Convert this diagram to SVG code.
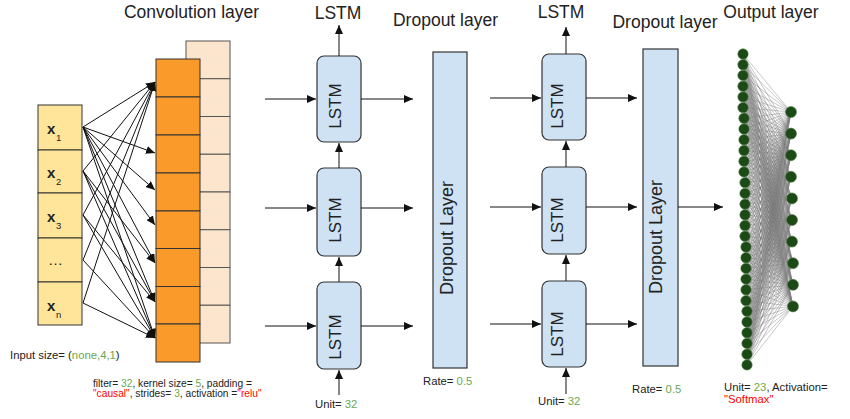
<svg xmlns="http://www.w3.org/2000/svg" width="850" height="419" viewBox="0 0 850 419">
<style>
text{font-family:"Liberation Sans",Arial,sans-serif;fill:#222}
.t{font-size:17.5px}
.s{font-size:11.3px}
.f{font-size:10.2px}
.g{fill:#6aa84f}
.r{fill:#ff0000}
.xl{font-size:15px;font-weight:bold}
.dots{font-size:15px}
.sub{font-size:9.5px}
.in{fill:#ffe599;stroke:#333;stroke-width:1}
.or{fill:#f99a2b;stroke:#333;stroke-width:1}
.pe{fill:#fce5cd;stroke:#555;stroke-width:1}
.ls{fill:#cfe2f3;stroke:#333;stroke-width:1.2}
.dr{fill:#cfe2f3;stroke:#333;stroke-width:1.2}
.bl{font-size:17px}
.a{stroke:#111;stroke-width:1;fill:none;marker-end:url(#ah)}
.m{stroke:#7a7a7a;stroke-width:0.5;fill:none;stroke-opacity:0.85}
.nd{fill:#1c4a17;stroke:#4f7a47;stroke-width:0.6}
</style>
<defs>
<marker id="ah" markerUnits="userSpaceOnUse" markerWidth="9" markerHeight="8" refX="9" refY="4" orient="auto">
<path d="M0,0L9,4L0,8z" fill="#111"/>
</marker>
</defs>

<g id="titles">
<text class="t" x="191.5" y="17.5" text-anchor="middle">Convolution layer</text>
<text class="t" x="338" y="18.5" text-anchor="middle">LSTM</text>
<text class="t" x="445.5" y="25.5" text-anchor="middle">Dropout layer</text>
<text class="t" x="561" y="17.5" text-anchor="middle">LSTM</text>
<text class="t" x="665" y="28" text-anchor="middle">Dropout layer</text>
<text class="t" x="771" y="17.5" text-anchor="middle">Output layer</text>
</g>

<g id="input">
<rect class="in" x="38" y="105" width="44" height="45"/>
<rect class="in" x="38" y="150" width="44" height="43"/>
<rect class="in" x="38" y="193" width="44" height="45"/>
<rect class="in" x="38" y="238" width="44" height="44"/>
<rect class="in" x="38" y="282" width="44" height="43"/>
<text class="xl" x="47" y="134">x</text><text class="sub" x="56" y="141">1</text>
<text class="xl" x="47" y="178">x</text><text class="sub" x="56" y="185">2</text>
<text class="xl" x="47" y="222">x</text><text class="sub" x="56" y="229">3</text>
<text class="dots" x="48" y="265">…</text>
<text class="xl" x="47" y="311">x</text><text class="sub" x="56" y="318">n</text>
<text class="s" x="10" y="359">Input size= (<tspan class="g">none,4,1</tspan>)</text>
</g>

<g id="conv">
<rect class="pe" x="186" y="41" width="44" height="37.75"/>
<rect class="pe" x="186" y="78.75" width="44" height="37.75"/>
<rect class="pe" x="186" y="116.5" width="44" height="37.75"/>
<rect class="pe" x="186" y="154.25" width="44" height="37.75"/>
<rect class="pe" x="186" y="192" width="44" height="37.75"/>
<rect class="pe" x="186" y="229.75" width="44" height="37.75"/>
<rect class="pe" x="186" y="267.5" width="44" height="37.75"/>
<rect class="pe" x="186" y="305.25" width="44" height="37.75"/>
<rect class="or" x="156" y="59" width="44" height="38"/>
<rect class="or" x="156" y="97" width="44" height="38"/>
<rect class="or" x="156" y="135" width="44" height="38"/>
<rect class="or" x="156" y="173" width="44" height="38"/>
<rect class="or" x="156" y="211" width="44" height="37.5"/>
<rect class="or" x="156" y="248.5" width="44" height="38"/>
<rect class="or" x="156" y="286.5" width="44" height="37.5"/>
<rect class="or" x="156" y="324" width="44" height="38"/>
<text class="f" x="93" y="387">filter= <tspan class="g">32</tspan>, kernel size= <tspan class="g">5</tspan>, padding =</text>
<text class="f" x="93" y="397"><tspan class="r">"causal"</tspan>, strides= <tspan class="g">3</tspan>, activation =<tspan class="r">"relu"</tspan></text>
</g>

<g id="lstm1">
<rect class="ls" x="317" y="56" width="44" height="86" rx="7"/>
<rect class="ls" x="317" y="168" width="44" height="88" rx="7"/>
<rect class="ls" x="317" y="282" width="44" height="87" rx="7"/>
<text class="bl" text-anchor="middle" transform="translate(340.5,106) rotate(-90)">LSTM</text>
<text class="bl" text-anchor="middle" transform="translate(340.5,220) rotate(-90)">LSTM</text>
<text class="bl" text-anchor="middle" transform="translate(340.5,337) rotate(-90)">LSTM</text>
<text class="s" x="315" y="408">Unit= <tspan class="g">32</tspan></text>
</g>

<g id="dropout1">
<rect class="dr" x="433" y="52" width="34" height="316"/>
<text font-size="18" text-anchor="middle" transform="translate(452.5,238) rotate(-90)">Dropout Layer</text>
<text class="s" x="423" y="385">Rate= <tspan class="g">0.5</tspan></text>
</g>

<g id="lstm2">
<rect class="ls" x="542" y="54" width="44" height="86" rx="7"/>
<rect class="ls" x="542" y="167" width="44" height="87" rx="7"/>
<rect class="ls" x="542" y="281" width="44" height="86" rx="7"/>
<text class="bl" text-anchor="middle" transform="translate(563,106) rotate(-90)">LSTM</text>
<text class="bl" text-anchor="middle" transform="translate(563,220) rotate(-90)">LSTM</text>
<text class="bl" text-anchor="middle" transform="translate(563,334) rotate(-90)">LSTM</text>
<text class="s" x="538" y="405">Unit= <tspan class="g">32</tspan></text>
</g>

<g id="dropout2">
<rect class="dr" x="643" y="49" width="35" height="317"/>
<text font-size="18" text-anchor="middle" transform="translate(662,237) rotate(-90)">Dropout Layer</text>
<text class="s" x="632" y="393">Rate= <tspan class="g">0.5</tspan></text>
</g>

<g id="connectors">
<path class="a" d="M83,127L155,82"/>
<path class="a" d="M83,127L155,153"/>
<path class="a" d="M83,127L155,190"/>
<path class="a" d="M83,127L155,225"/>
<path class="a" d="M83,127L155,263"/>
<path class="a" d="M83,127L155,302"/>
<path class="a" d="M83,127L155,338"/>
<path class="a" d="M83,171L155,82"/>
<path class="a" d="M83,171L155,263"/>
<path class="a" d="M83,171L155,302"/>
<path class="a" d="M83,171L155,338"/>
<path class="a" d="M83,215L155,82"/>
<path class="a" d="M83,215L155,302"/>
<path class="a" d="M83,215L155,338"/>
<path class="a" d="M83,260L155,82"/>
<path class="a" d="M83,260L155,338"/>
<path class="a" d="M83,303L155,82"/>
<path class="a" d="M83,303L155,338"/>

<path class="a" d="M265,99H316"/>
<path class="a" d="M265,208H316"/>
<path class="a" d="M265,326H316"/>
<path class="a" d="M361,99H413"/>
<path class="a" d="M361,208H413"/>
<path class="a" d="M361,326H413"/>
<path class="a" d="M339,56V25"/>
<path class="a" d="M339,168V143"/>
<path class="a" d="M339,282V257"/>
<path class="a" d="M339,395V370"/>

<path class="a" d="M490,98H541"/>
<path class="a" d="M490,207H541"/>
<path class="a" d="M490,324H541"/>
<path class="a" d="M586,98H637"/>
<path class="a" d="M586,207H637"/>
<path class="a" d="M586,324H637"/>
<path class="a" d="M566,54V27"/>
<path class="a" d="M566,167V141"/>
<path class="a" d="M566,281V255"/>
<path class="a" d="M566,394V368"/>

<path class="a" d="M678,207H723"/>
</g>

<g id="output">
<path class="m" d="M743 54L791 112 743 64.7 791 133.6 743 75.4 791 112 743 86.2 791 133.6 743 96.9 791 112 743 107.6 791 133.6 744 118.3 791 112 744 129 791 133.6 744 139.8 791 112 744 150.5 791 133.6 744 161.2 791 112 744 171.9 791 133.6 745 182.6 791 112 745 193.4 791 133.6 745 204.1 791 112 745 214.8 791 133.6 745 225.5 791 112 745 236.2 791 133.6 746 247 791 112 746 257.7 791 133.6 746 268.4 791 112 746 279.1 791 133.6 746 289.8 791 112 746 300.6 791 133.6 747 311.3 791 112 747 322 791 133.6 747 332.7 791 112 747 343.4 791 133.6 747 354.2 791 112 747 364.9 791 133.6Z"/>
<path class="m" d="M743 54L791 155.2 743 64.7 791 176.8 743 75.4 791 155.2 743 86.2 791 176.8 743 96.9 791 155.2 743 107.6 791 176.8 744 118.3 791 155.2 744 129 791 176.8 744 139.8 791 155.2 744 150.5 791 176.8 744 161.2 791 155.2 744 171.9 791 176.8 745 182.6 791 155.2 745 193.4 791 176.8 745 204.1 791 155.2 745 214.8 791 176.8 745 225.5 791 155.2 745 236.2 791 176.8 746 247 791 155.2 746 257.7 791 176.8 746 268.4 791 155.2 746 279.1 791 176.8 746 289.8 791 155.2 746 300.6 791 176.8 747 311.3 791 155.2 747 322 791 176.8 747 332.7 791 155.2 747 343.4 791 176.8 747 354.2 791 155.2 747 364.9 791 176.8Z"/>
<path class="m" d="M743 54L792 198.4 743 64.7 792 220 743 75.4 792 198.4 743 86.2 792 220 743 96.9 792 198.4 743 107.6 792 220 744 118.3 792 198.4 744 129 792 220 744 139.8 792 198.4 744 150.5 792 220 744 161.2 792 198.4 744 171.9 792 220 745 182.6 792 198.4 745 193.4 792 220 745 204.1 792 198.4 745 214.8 792 220 745 225.5 792 198.4 745 236.2 792 220 746 247 792 198.4 746 257.7 792 220 746 268.4 792 198.4 746 279.1 792 220 746 289.8 792 198.4 746 300.6 792 220 747 311.3 792 198.4 747 322 792 220 747 332.7 792 198.4 747 343.4 792 220 747 354.2 792 198.4 747 364.9 792 220Z"/>
<path class="m" d="M743 54L792 241.6 743 64.7 793 263.2 743 75.4 792 241.6 743 86.2 793 263.2 743 96.9 792 241.6 743 107.6 793 263.2 744 118.3 792 241.6 744 129 793 263.2 744 139.8 792 241.6 744 150.5 793 263.2 744 161.2 792 241.6 744 171.9 793 263.2 745 182.6 792 241.6 745 193.4 793 263.2 745 204.1 792 241.6 745 214.8 793 263.2 745 225.5 792 241.6 745 236.2 793 263.2 746 247 792 241.6 746 257.7 793 263.2 746 268.4 792 241.6 746 279.1 793 263.2 746 289.8 792 241.6 746 300.6 793 263.2 747 311.3 792 241.6 747 322 793 263.2 747 332.7 792 241.6 747 343.4 793 263.2 747 354.2 792 241.6 747 364.9 793 263.2Z"/>
<path class="m" d="M743 54L793 284.8 743 64.7 793 306.4 743 75.4 793 284.8 743 86.2 793 306.4 743 96.9 793 284.8 743 107.6 793 306.4 744 118.3 793 284.8 744 129 793 306.4 744 139.8 793 284.8 744 150.5 793 306.4 744 161.2 793 284.8 744 171.9 793 306.4 745 182.6 793 284.8 745 193.4 793 306.4 745 204.1 793 284.8 745 214.8 793 306.4 745 225.5 793 284.8 745 236.2 793 306.4 746 247 793 284.8 746 257.7 793 306.4 746 268.4 793 284.8 746 279.1 793 306.4 746 289.8 793 284.8 746 300.6 793 306.4 747 311.3 793 284.8 747 322 793 306.4 747 332.7 793 284.8 747 343.4 793 306.4 747 354.2 793 284.8 747 364.9 793 306.4Z"/>
<g id="output-left">
<circle class="nd" cx="743" cy="54" r="5.2"/>
<circle class="nd" cx="743" cy="64.7" r="5.2"/>
<circle class="nd" cx="743" cy="75.4" r="5.2"/>
<circle class="nd" cx="743" cy="86.2" r="5.2"/>
<circle class="nd" cx="743" cy="96.9" r="5.2"/>
<circle class="nd" cx="743" cy="107.6" r="5.2"/>
<circle class="nd" cx="744" cy="118.3" r="5.2"/>
<circle class="nd" cx="744" cy="129" r="5.2"/>
<circle class="nd" cx="744" cy="139.8" r="5.2"/>
<circle class="nd" cx="744" cy="150.5" r="5.2"/>
<circle class="nd" cx="744" cy="161.2" r="5.2"/>
<circle class="nd" cx="744" cy="171.9" r="5.2"/>
<circle class="nd" cx="745" cy="182.6" r="5.2"/>
<circle class="nd" cx="745" cy="193.4" r="5.2"/>
<circle class="nd" cx="745" cy="204.1" r="5.2"/>
<circle class="nd" cx="745" cy="214.8" r="5.2"/>
<circle class="nd" cx="745" cy="225.5" r="5.2"/>
<circle class="nd" cx="745" cy="236.2" r="5.2"/>
<circle class="nd" cx="746" cy="247" r="5.2"/>
<circle class="nd" cx="746" cy="257.7" r="5.2"/>
<circle class="nd" cx="746" cy="268.4" r="5.2"/>
<circle class="nd" cx="746" cy="279.1" r="5.2"/>
<circle class="nd" cx="746" cy="289.8" r="5.2"/>
<circle class="nd" cx="746" cy="300.6" r="5.2"/>
<circle class="nd" cx="747" cy="311.3" r="5.2"/>
<circle class="nd" cx="747" cy="322" r="5.2"/>
<circle class="nd" cx="747" cy="332.7" r="5.2"/>
<circle class="nd" cx="747" cy="343.4" r="5.2"/>
<circle class="nd" cx="747" cy="354.2" r="5.2"/>
<circle class="nd" cx="747" cy="364.9" r="5.2"/>
</g>
<g id="output-right">
<circle class="nd" cx="791" cy="112" r="5.5"/>
<circle class="nd" cx="791" cy="133.6" r="5.5"/>
<circle class="nd" cx="791" cy="155.2" r="5.5"/>
<circle class="nd" cx="791" cy="176.8" r="5.5"/>
<circle class="nd" cx="792" cy="198.4" r="5.5"/>
<circle class="nd" cx="792" cy="220" r="5.5"/>
<circle class="nd" cx="792" cy="241.6" r="5.5"/>
<circle class="nd" cx="793" cy="263.2" r="5.5"/>
<circle class="nd" cx="793" cy="284.8" r="5.5"/>
<circle class="nd" cx="793" cy="306.4" r="5.5"/>
</g>
<text class="s" x="724" y="391">Unit= <tspan class="g">23</tspan>, Activation=</text>
<text class="s" x="724" y="403"><tspan class="r">"Softmax"</tspan></text>
</g>
</svg>
